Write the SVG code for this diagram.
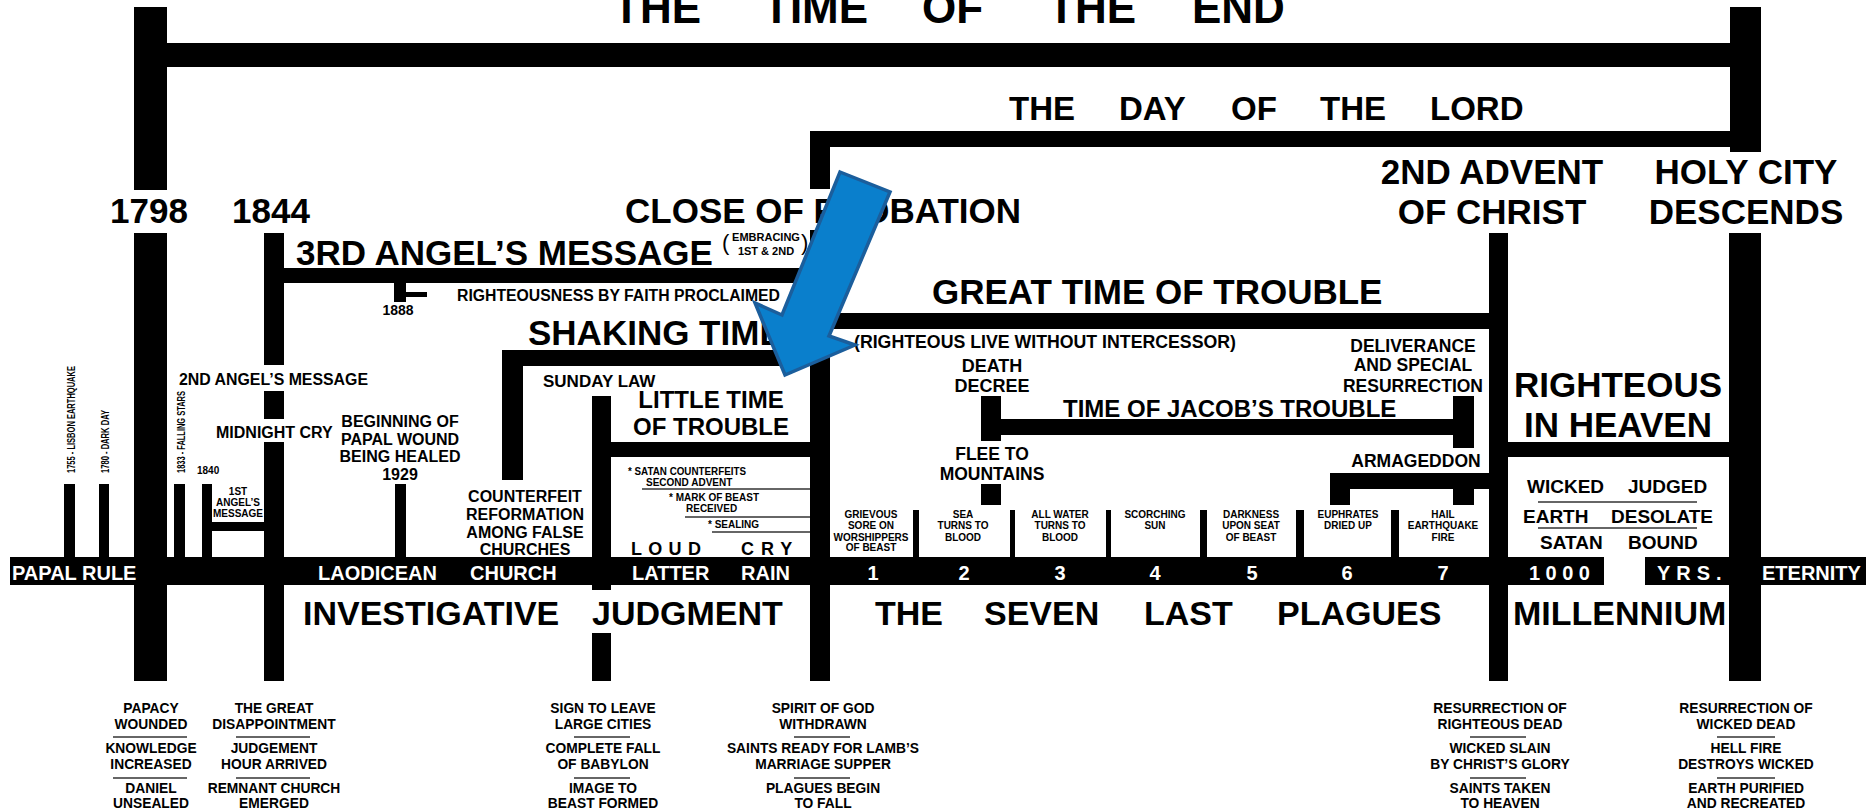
<svg xmlns="http://www.w3.org/2000/svg" width="1866" height="811" viewBox="0 0 1866 811">
<style>
text{font-family:"Liberation Sans",Arial,sans-serif;font-weight:bold;fill:#000}
.w{fill:#fff}
.m{text-anchor:middle}
.t35{font-size:35px}
.t34{font-size:34px}
.t24{font-size:24px}
.t20{font-size:20px}
.t19{font-size:19px}
.t18{font-size:18px}
.t17{font-size:17.5px}
.t16{font-size:16px}
.t14{font-size:13.8px}
.t11{font-size:11px}
.t10{font-size:10px}
.sep{stroke:#333;stroke-width:1.3}
</style>
<rect width="1866" height="811" fill="#fff"/>

<g id="connectors" fill="#000">
  <!-- time of the end bracket -->
  <rect x="134" y="7" width="33" height="183"/>
  <rect x="134" y="43" width="1627" height="24"/>
  <rect x="1730" y="7" width="31" height="145"/>
  <!-- day of the lord -->
  <rect x="810" y="131" width="951" height="16"/>
  <rect x="810" y="131" width="20" height="58"/>
  <!-- lower verticals -->
  <rect x="134" y="233" width="33" height="448"/>
  <rect x="264" y="233" width="20" height="132"/>
  <rect x="264" y="391" width="20" height="28"/>
  <rect x="264" y="442" width="20" height="239"/>
  <rect x="810" y="230" width="20" height="451"/>
  <rect x="1489" y="233" width="19" height="448"/>
  <rect x="1729" y="233" width="32" height="448"/>
  <!-- 3rd angel bar -->
  <rect x="264" y="268" width="556" height="15"/>
  <rect x="394" y="283" width="12" height="19"/>
  <rect x="406" y="292" width="21" height="5"/>
  <!-- shaking time -->
  <rect x="502" y="350" width="318" height="16"/>
  <rect x="502" y="350" width="21" height="130"/>
  <!-- sunday law / little time -->
  <rect x="592" y="396" width="19" height="194"/>
  <rect x="592" y="633" width="19" height="48"/>
  <rect x="611" y="442" width="200" height="15"/>
  <!-- great time of trouble -->
  <rect x="830" y="313" width="670" height="16"/>
  <!-- jacob's trouble -->
  <rect x="981" y="396" width="20" height="45"/>
  <rect x="981" y="484" width="20" height="21"/>
  <rect x="1001" y="419" width="473" height="16"/>
  <rect x="1453" y="396" width="21" height="52"/>
  <!-- armageddon -->
  <rect x="1330" y="473" width="160" height="16"/>
  <rect x="1330" y="489" width="20" height="16"/>
  <rect x="1453" y="489" width="21" height="16"/>
  <!-- righteous in heaven -->
  <rect x="1508" y="442" width="222" height="15"/>
  <!-- small event bars -->
  <rect x="64" y="484" width="11" height="73"/>
  <rect x="99" y="484" width="10" height="73"/>
  <rect x="174" y="484" width="11" height="73"/>
  <rect x="202" y="484" width="10" height="73"/>
  <rect x="212" y="522" width="52" height="9"/>
  <rect x="395" y="484" width="11" height="73"/>
  <!-- plague separators -->
  <rect x="913" y="510" width="6" height="47"/>
  <rect x="1010" y="510" width="5" height="47"/>
  <rect x="1106" y="510" width="5" height="47"/>
  <rect x="1200" y="510" width="7" height="47"/>
  <rect x="1296" y="510" width="8" height="47"/>
  <rect x="1391" y="510" width="8" height="47"/>
  <!-- main timeline -->
  <rect x="10" y="557" width="1856" height="28"/>
  <rect x="1604" y="556" width="41" height="30" fill="#fff"/>
</g>

<g id="headings">
  <text class="t35" style="font-size:44px" y="23"><tspan x="613">THE</tspan><tspan x="763">TIME</tspan><tspan x="922">OF</tspan><tspan x="1048">THE</tspan><tspan x="1192">END</tspan></text>
  <text style="font-size:33px" y="120"><tspan x="1009">THE</tspan><tspan x="1119">DAY</tspan><tspan x="1231">OF</tspan><tspan x="1320">THE</tspan><tspan x="1430">LORD</tspan></text>
  <text class="t35 m" x="149" y="223">1798</text>
  <text class="t35 m" x="271" y="223">1844</text>
  <text class="t35" x="625" y="223">CLOSE OF PROBATION</text>
  <text class="t35 m" x="1492" y="184">2ND ADVENT</text>
  <text class="t35 m" x="1492" y="224">OF CHRIST</text>
  <text class="t35 m" x="1746" y="184">HOLY CITY</text>
  <text class="t35 m" x="1746" y="224">DESCENDS</text>
</g>

<g id="third-angel">
  <text class="t35" x="296" y="265">3RD ANGEL’S MESSAGE</text>
  <text style="font-size:22px;font-weight:normal" x="722" y="250">(</text>
  <text class="t11 m" x="766" y="241">EMBRACING</text>
  <text class="t11 m" x="766" y="255">1ST &amp; 2ND</text>
  <text style="font-size:22px;font-weight:normal" x="801" y="250">)</text>
  <text class="t16" x="457" y="301" textLength="323" lengthAdjust="spacingAndGlyphs">RIGHTEOUSNESS BY FAITH PROCLAIMED</text>
  <text class="m" style="font-size:14px" x="398" y="315">1888</text>
</g>

<g id="early-events">
  <text class="t10" transform="translate(75,473) rotate(-90)" textLength="107" lengthAdjust="spacingAndGlyphs">1755 - LISBON EARTHQUAKE</text>
  <text class="t10" transform="translate(109,473) rotate(-90)" textLength="63" lengthAdjust="spacingAndGlyphs">1780 - DARK DAY</text>
  <text class="t10" transform="translate(185,473) rotate(-90)" textLength="82" lengthAdjust="spacingAndGlyphs">1833 - FALLING STARS</text>
  <text class="t10" x="197" y="474">1840</text>
  <text class="t10 m" x="238" y="495">1ST</text>
  <text class="t10 m" x="238" y="506">ANGEL’S</text>
  <text class="t10 m" x="238" y="517">MESSAGE</text>
  <text class="t16" x="179" y="385" textLength="189" lengthAdjust="spacingAndGlyphs">2ND ANGEL’S MESSAGE</text>
  <text class="t16" x="216" y="438">MIDNIGHT CRY</text>
  <text class="t16 m" x="400" y="427">BEGINNING OF</text>
  <text class="t16 m" x="400" y="445">PAPAL WOUND</text>
  <text class="t16 m" x="400" y="462">BEING HEALED</text>
  <text class="t16 m" x="400" y="480">1929</text>
</g>

<g id="shaking">
  <text class="t35" x="528" y="345">SHAKING TIME</text>
  <text class="t16 m" x="525" y="502">COUNTERFEIT</text>
  <text class="t16 m" x="525" y="520">REFORMATION</text>
  <text class="t16 m" x="525" y="538">AMONG FALSE</text>
  <text class="t16 m" x="525" y="555">CHURCHES</text>
  <text style="font-size:17px" x="543" y="387">SUNDAY LAW</text>
  <text class="t24 m" x="711" y="408">LITTLE TIME</text>
  <text class="t24 m" x="711" y="435">OF TROUBLE</text>
  <text class="t10" x="628" y="475" textLength="118" lengthAdjust="spacingAndGlyphs">* SATAN COUNTERFEITS</text>
  <text class="t10" x="646" y="486">SECOND ADVENT</text>
  <line class="sep" x1="642" y1="489" x2="810" y2="489"/>
  <text class="t10" x="669" y="501">* MARK OF BEAST</text>
  <text class="t10" x="686" y="512">RECEIVED</text>
  <line class="sep" x1="685" y1="517" x2="810" y2="517"/>
  <text class="t10" x="708" y="528">* SEALING</text>
  <line class="sep" x1="712" y1="532" x2="810" y2="532"/>
  <text class="t18" x="631" y="555" style="letter-spacing:6.3px">LOUD</text>
  <text class="t18" x="741" y="555" style="letter-spacing:7px">CRY</text>
</g>

<g id="trouble">
  <text class="t35" x="932" y="304">GREAT TIME OF TROUBLE</text>
  <text class="t18" x="854" y="348" textLength="382" lengthAdjust="spacingAndGlyphs">(RIGHTEOUS LIVE WITHOUT INTERCESSOR)</text>
  <text class="t18 m" x="992" y="372">DEATH</text>
  <text class="t18 m" x="992" y="392">DECREE</text>
  <text class="t17 m" x="992" y="460">FLEE TO</text>
  <text class="t17 m" x="992" y="480">MOUNTAINS</text>
  <text class="t24" x="1063" y="417">TIME OF JACOB’S TROUBLE</text>
  <text class="t17 m" x="1413" y="352">DELIVERANCE</text>
  <text class="t17 m" x="1413" y="371">AND SPECIAL</text>
  <text class="t17 m" x="1413" y="392">RESURRECTION</text>
  <text class="t17 m" x="1416" y="467">ARMAGEDDON</text>
</g>

<g id="plagues" class="t10">
  <text class="t10 m" x="871" y="518">GRIEVOUS</text>
  <text class="t10 m" x="871" y="529">SORE ON</text>
  <text class="t10 m" x="871" y="541">WORSHIPPERS</text>
  <text class="t10 m" x="871" y="551">OF BEAST</text>
  <text class="t10 m" x="963" y="518">SEA</text>
  <text class="t10 m" x="963" y="529">TURNS TO</text>
  <text class="t10 m" x="963" y="541">BLOOD</text>
  <text class="t10 m" x="1060" y="518">ALL WATER</text>
  <text class="t10 m" x="1060" y="529">TURNS TO</text>
  <text class="t10 m" x="1060" y="541">BLOOD</text>
  <text class="t10 m" x="1155" y="518">SCORCHING</text>
  <text class="t10 m" x="1155" y="529">SUN</text>
  <text class="t10 m" x="1251" y="518">DARKNESS</text>
  <text class="t10 m" x="1251" y="529">UPON SEAT</text>
  <text class="t10 m" x="1251" y="541">OF BEAST</text>
  <text class="t10 m" x="1348" y="518">EUPHRATES</text>
  <text class="t10 m" x="1348" y="529">DRIED UP</text>
  <text class="t10 m" x="1443" y="518">HAIL</text>
  <text class="t10 m" x="1443" y="529">EARTHQUAKE</text>
  <text class="t10 m" x="1443" y="541">FIRE</text>
</g>

<g id="millennium">
  <text class="t35 m" x="1618" y="397">RIGHTEOUS</text>
  <text class="t35 m" x="1618" y="437">IN HEAVEN</text>
  <text class="t19" x="1527" y="493">WICKED</text>
  <text class="t19" x="1628" y="493">JUDGED</text>
  <line class="sep" x1="1538" y1="502" x2="1697" y2="502"/>
  <text class="t19" x="1523" y="523">EARTH</text>
  <text class="t19" x="1611" y="523">DESOLATE</text>
  <line class="sep" x1="1538" y1="528" x2="1697" y2="528"/>
  <text class="t19" x="1540" y="549">SATAN</text>
  <text class="t19" x="1628" y="549">BOUND</text>
</g>

<g id="timeline-labels" class="t20">
  <text class="t20 w" x="12" y="580">PAPAL RULE</text>
  <text class="t20 w" x="318" y="580">LAODICEAN</text>
  <text class="t20 w" x="470" y="580">CHURCH</text>
  <text class="t20 w" x="632" y="580">LATTER</text>
  <text class="t20 w" x="741" y="580">RAIN</text>
  <text class="t20 w m" x="873" y="580">1</text>
  <text class="t20 w m" x="964" y="580">2</text>
  <text class="t20 w m" x="1060" y="580">3</text>
  <text class="t20 w m" x="1155" y="580">4</text>
  <text class="t20 w m" x="1252" y="580">5</text>
  <text class="t20 w m" x="1347" y="580">6</text>
  <text class="t20 w m" x="1443" y="580">7</text>
  <text class="t20 w" x="1529" y="580" style="letter-spacing:5.5px">1000</text>
  <text class="t20 w" x="1657" y="580" style="letter-spacing:6px">YRS.</text>
  <text class="t20 w" x="1762" y="580">ETERNITY</text>
</g>

<g id="periods">
  <text class="t34" x="303" y="625">INVESTIGATIVE</text>
  <text class="t34" x="592" y="625">JUDGMENT</text>
  <text class="t34" y="625"><tspan x="875">THE</tspan><tspan x="984">SEVEN</tspan><tspan x="1144">LAST</tspan><tspan x="1277">PLAGUES</tspan></text>
  <text class="t34" x="1513" y="625">MILLENNIUM</text>
</g>

<g id="notes-1798">
  <text class="t14 m" x="151" y="713">PAPACY</text>
  <text class="t14 m" x="151" y="729">WOUNDED</text>
  <line class="sep" x1="113" y1="737" x2="187" y2="737"/>
  <text class="t14 m" x="151" y="753">KNOWLEDGE</text>
  <text class="t14 m" x="151" y="769">INCREASED</text>
  <line class="sep" x1="113" y1="778" x2="187" y2="778"/>
  <text class="t14 m" x="151" y="793">DANIEL</text>
  <text class="t14 m" x="151" y="808">UNSEALED</text>
</g>
<g id="notes-1844">
  <text class="t14 m" x="274" y="713">THE GREAT</text>
  <text class="t14 m" x="274" y="729">DISAPPOINTMENT</text>
  <line class="sep" x1="236" y1="737" x2="310" y2="737"/>
  <text class="t14 m" x="274" y="753">JUDGEMENT</text>
  <text class="t14 m" x="274" y="769">HOUR ARRIVED</text>
  <line class="sep" x1="236" y1="778" x2="310" y2="778"/>
  <text class="t14 m" x="274" y="793">REMNANT CHURCH</text>
  <text class="t14 m" x="274" y="808">EMERGED</text>
</g>
<g id="notes-sunday">
  <text class="t14 m" x="603" y="713">SIGN TO LEAVE</text>
  <text class="t14 m" x="603" y="729">LARGE CITIES</text>
  <line class="sep" x1="574" y1="737" x2="630" y2="737"/>
  <text class="t14 m" x="603" y="753">COMPLETE FALL</text>
  <text class="t14 m" x="603" y="769">OF BABYLON</text>
  <line class="sep" x1="574" y1="778" x2="630" y2="778"/>
  <text class="t14 m" x="603" y="793">IMAGE TO</text>
  <text class="t14 m" x="603" y="808">BEAST FORMED</text>
</g>
<g id="notes-close">
  <text class="t14 m" x="823" y="713">SPIRIT OF GOD</text>
  <text class="t14 m" x="823" y="729">WITHDRAWN</text>
  <line class="sep" x1="794" y1="737" x2="850" y2="737"/>
  <text class="t14 m" x="823" y="753">SAINTS READY FOR LAMB’S</text>
  <text class="t14 m" x="823" y="769">MARRIAGE SUPPER</text>
  <line class="sep" x1="794" y1="778" x2="850" y2="778"/>
  <text class="t14 m" x="823" y="793">PLAGUES BEGIN</text>
  <text class="t14 m" x="823" y="808">TO FALL</text>
</g>
<g id="notes-advent">
  <text class="t14 m" x="1500" y="713">RESURRECTION OF</text>
  <text class="t14 m" x="1500" y="729">RIGHTEOUS DEAD</text>
  <line class="sep" x1="1470" y1="737" x2="1526" y2="737"/>
  <text class="t14 m" x="1500" y="753">WICKED SLAIN</text>
  <text class="t14 m" x="1500" y="769">BY CHRIST’S GLORY</text>
  <line class="sep" x1="1470" y1="778" x2="1526" y2="778"/>
  <text class="t14 m" x="1500" y="793">SAINTS TAKEN</text>
  <text class="t14 m" x="1500" y="808">TO HEAVEN</text>
</g>
<g id="notes-holycity">
  <text class="t14 m" x="1746" y="713">RESURRECTION OF</text>
  <text class="t14 m" x="1746" y="729">WICKED DEAD</text>
  <line class="sep" x1="1717" y1="737" x2="1775" y2="737"/>
  <text class="t14 m" x="1746" y="753">HELL FIRE</text>
  <text class="t14 m" x="1746" y="769">DESTROYS WICKED</text>
  <line class="sep" x1="1717" y1="778" x2="1775" y2="778"/>
  <text class="t14 m" x="1746" y="793">EARTH PURIFIED</text>
  <text class="t14 m" x="1746" y="808">AND RECREATED</text>
</g>

<g id="blue-arrow">
  <polygon points="840,172 890,192 829,336 855,345 785,375 755,303 782,315" fill="#0A7FCC" stroke="#1B5E9C" stroke-width="3.5" stroke-linejoin="miter"/>
</g>
</svg>
